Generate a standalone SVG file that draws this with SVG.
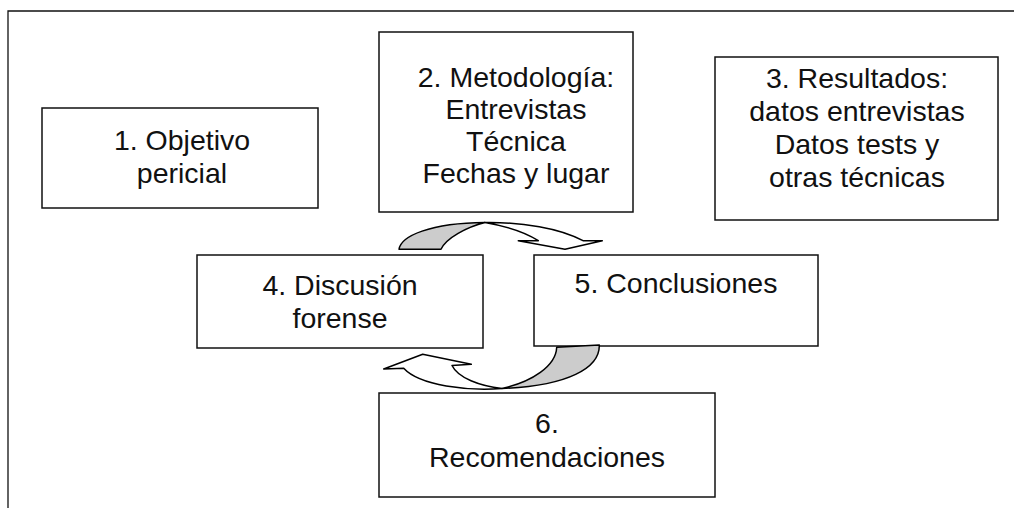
<svg xmlns="http://www.w3.org/2000/svg" width="1014" height="508" viewBox="0 0 1014 508">
<style>
.box{fill:#fff;stroke:#111;stroke-width:1.5}
.t{font-family:"Liberation Sans",Arial,sans-serif;font-size:28.5px;fill:#111;text-anchor:middle}
.frame{fill:none;stroke:#111;stroke-width:1.3}
.back{fill:#cccccc;stroke:#000;stroke-width:1.5;stroke-linejoin:round}
.front{fill:#fff;stroke:#000;stroke-width:1.5;stroke-linejoin:round}
</style>
<rect width="1014" height="508" fill="#fff"/>
<path class="frame" d="M8,508 V11 H1014"/>
<g id="node1"><rect class="box" x="42" y="108" width="276" height="100"/>
<text class="t" x="182" y="150">1. Objetivo</text><text class="t" x="182" y="183">pericial</text></g>
<g id="node2"><rect class="box" x="379" y="32" width="254" height="180"/>
<text class="t" x="516" y="87">2. Metodología:</text><text class="t" x="516" y="119">Entrevistas</text><text class="t" x="516" y="151">Técnica</text><text class="t" x="516" y="183">Fechas y lugar</text></g>
<g id="node3"><rect class="box" x="715" y="57" width="283" height="163"/>
<text class="t" x="857" y="88">3. Resultados:</text><text class="t" x="857" y="121">datos entrevistas</text><text class="t" x="857" y="154">Datos tests y</text><text class="t" x="857" y="187">otras técnicas</text></g>
<g id="node4"><rect class="box" x="197" y="255" width="286" height="93"/>
<text class="t" x="340" y="295">4. Discusión</text><text class="t" x="340" y="328">forense</text></g>
<g id="node5"><rect class="box" x="534" y="255" width="284" height="91"/>
<text class="t" x="676" y="293">5. Conclusiones</text></g>
<g id="node6"><rect class="box" x="379" y="393" width="336" height="104"/>
<text class="t" x="547" y="433">6.</text><text class="t" x="547" y="467">Recomendaciones</text></g>
<g id="connectors">
<g id="arrow-4-5">
<path class="back" d="M399,249.3 C401,236 430,223 485,222.5 C467,227 446,238 441,249.3 Z"/>
<path class="front" d="M485,222.5 C522,222 560,228 583,240.7 L602.3,240.7 L565,249.3 L518.3,240.7 L538.3,240.7 C525,232 505,226 485,222.5 Z"/>
</g>
<g id="arrow-5-4">
<path class="back" d="M556.7,347.3 L599.3,345 C600,368 568,386 502,388.5 C532,382 556,366 556.7,347.3 Z"/>
<path class="front" d="M502,388.5 C468,391 420,386 403.7,368.3 L383.7,369 L422.7,354.3 L471.3,364.3 L452,365.5 C458,378 480,386 502,388.5 Z"/>
</g>
</g>
</svg>
